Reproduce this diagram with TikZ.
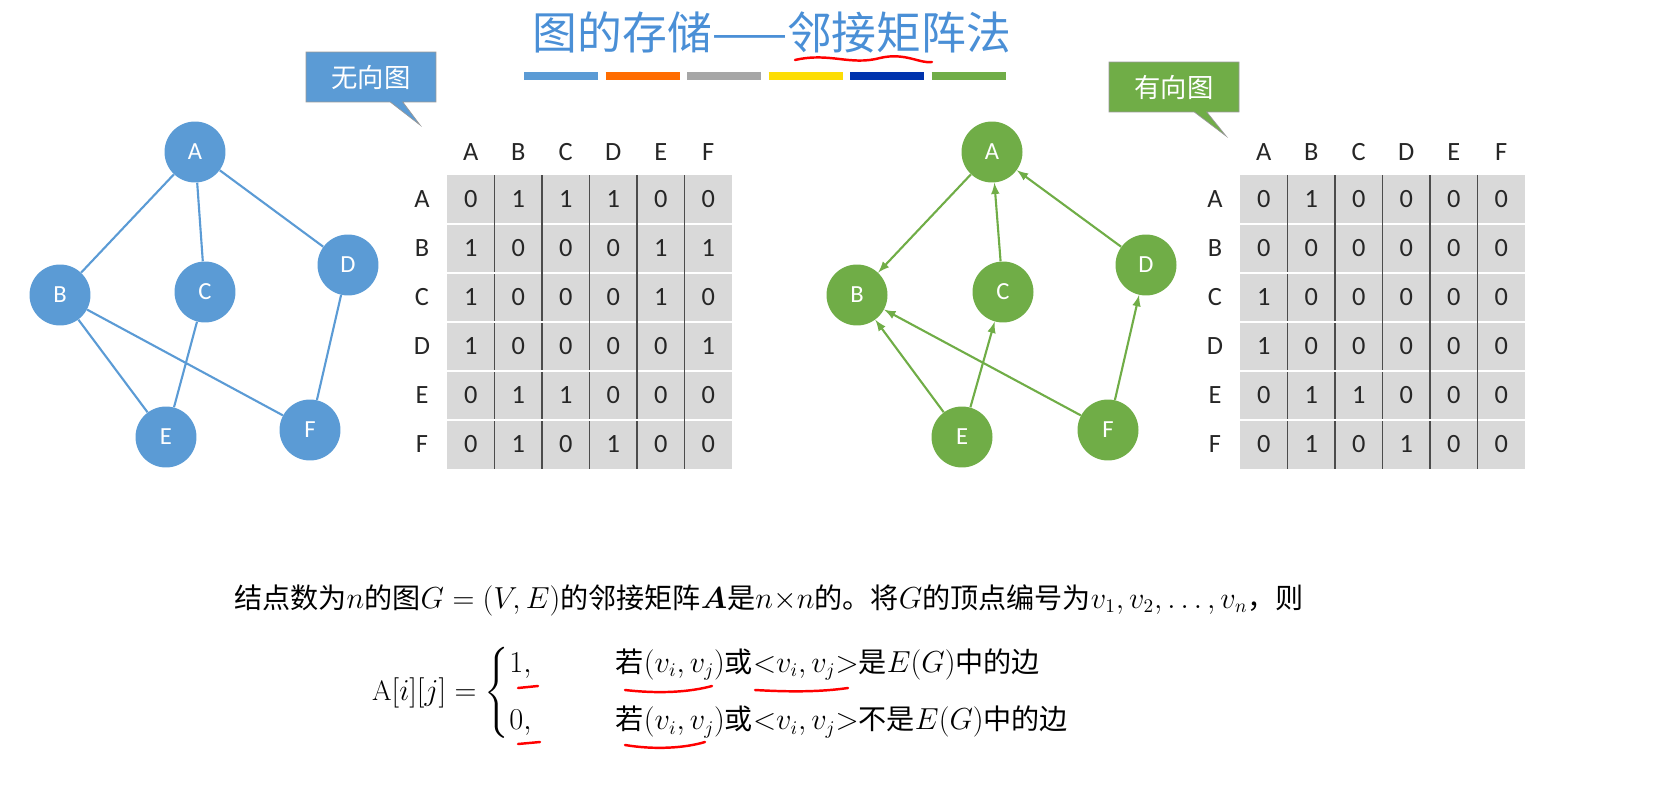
\documentclass[tikz,border=0pt]{standalone}
\usepackage{amsmath}
\usepackage{fontspec}
\setsansfont{Carlito}
\newfontfamily\cjk{Noto Sans CJK SC}
\usetikzlibrary{positioning,shapes.callouts,decorations.pathmorphing}
\definecolor{ublue}{HTML}{5B9BD5}
\definecolor{dgreen}{HTML}{70AD47}
\definecolor{titleblue}{HTML}{4A8FD6}
\definecolor{cellgray}{HTML}{D9D9D9}
\tikzset{
  vtx/.style={circle,minimum size=1.22cm,inner sep=0pt,text=white,font=\sffamily\fontsize{14}{16}\selectfont},
  uvtx/.style={vtx,fill=ublue},
  dvtx/.style={vtx,fill=dgreen},
  uedge/.style={ublue,line width=1.2pt},
  dedge/.style={dgreen,line width=1.2pt,-latex},
  lbl/.style={font=\sffamily\fontsize{15}{17}\selectfont,text=black!85},
  note/.style={rectangle callout,draw=black!40,text=white,minimum width=2.6cm,minimum height=1cm,font=\cjk\fontsize{15}{17}\selectfont},
  bar/.style={line width=0.16cm},
  redmark/.style={red,line width=1.4pt,line cap=round}
}
\newcommand{\zh}[1]{\text{\cjk #1}}
\begin{document}
\begin{tikzpicture}[x=0.02cm,y=-0.02cm]
\useasboundingbox (0,0) rectangle (1670,811);
% title
\node[font=\cjk\fontsize{25.5}{28}\selectfont,text=titleblue] (title) at (772,32) {图的存储——邻接矩阵法};
\draw[redmark] (795,60) .. controls (830,52) and (850,66) .. (880,58) .. controls (905,52) and (920,64) .. (932,62);
\foreach \c [count=\i from 0] in {ublue,orange!85!red,gray!70,yellow!80!orange,blue!60!black!80!cyan,dgreen}
  \draw[bar,\c] ({524+\i*81.5},76) -- ({598+\i*81.5},76);
% callouts
\node[note,fill=ublue,callout absolute pointer={(420,125)}] (undir) at (371,77) {无向图};
\node[note,fill=dgreen,callout absolute pointer={(1226,136)}] (dir) at (1174,87) {有向图};
% undirected graph
\node[uvtx] (uA) at (195,152) {A};
\node[uvtx] (uB) at (60,295) {B};
\node[uvtx] (uC) at (205,292) {C};
\node[uvtx] (uD) at (348,265) {D};
\node[uvtx] (uE) at (166,437) {E};
\node[uvtx] (uF) at (310,430) {F};
\draw[uedge] (uA) -- (uB) (uA) -- (uC) (uA) -- (uD) (uB) -- (uE)
  (uB) -- (uF) (uC) -- (uE) (uD) -- (uF);
% directed graph
\node[dvtx] (dA) at (992,152) {A};
\node[dvtx] (dB) at (857,295) {B};
\node[dvtx] (dC) at (1003,292) {C};
\node[dvtx] (dD) at (1146,265) {D};
\node[dvtx] (dE) at (962,437) {E};
\node[dvtx] (dF) at (1108,430) {F};
\draw[dedge] (dA) -- (dB);
\draw[dedge] (dC) -- (dA);
\draw[dedge] (dD) -- (dA);
\draw[dedge] (dE) -- (dB);
\draw[dedge] (dE) -- (dC);
\draw[dedge] (dF) -- (dB);
\draw[dedge] (dF) -- (dD);
% matrices
\foreach \m/\x/\rows in {u/447/{{0,1,1,1,0,0},{1,0,0,0,1,1},{1,0,0,0,1,0},{1,0,0,0,0,1},{0,1,1,0,0,0},{0,1,0,1,0,0}},
                         d/1240/{{0,1,0,0,0,0},{0,0,0,0,0,0},{1,0,0,0,0,0},{1,0,0,0,0,0},{0,1,1,0,0,0},{0,1,0,1,0,0}}} {
  \fill[cellgray] (\x,175) rectangle ({\x+285},469);
  \foreach \k in {1,...,5} {
    \draw[white,line width=1.5pt] (\x,{175+\k*49}) -- ({\x+285},{175+\k*49});
    \draw[black!70,line width=0.8pt] ({\x+\k*47.5},175) -- ({\x+\k*47.5},469);
  }
  \foreach \n [count=\j] in {A,B,C,D,E,F} {
    \node[lbl] (\m h\j) at ({\x+23.75+(\j-1)*47.5},152) {\n};
    \node[lbl] (\m r\j) at ({\x-25},{199.5+(\j-1)*49}) {\n};
  }
  \foreach \row [count=\r] in \rows
    \foreach \v [count=\c] in \row
      \node[lbl] (\m c\r-\c) at ({\x+23.75+(\c-1)*47.5},{199.5+(\r-1)*49}) {\v};
}
% definition
\node[anchor=west,font=\fontsize{16}{19}\selectfont] (defn) at (228,600)
  {\cjk 结点数为$n$的图$G=(V,E)$的邻接矩阵$\boldsymbol{A}$是$n{\times}n$的。将$G$的顶点编号为$v_1,v_2,\ldots,v_n$，则};
\node[anchor=west,font=\fontsize{16}{19}\selectfont] (formula) at (366,693)
  {$\mathrm{A}[i][j]=\begin{cases}1, & \qquad\zh{若}(v_i,v_j)\zh{或}{<}v_i,v_j{>}\zh{是}E(G)\zh{中的边}\\[10pt]
   0, & \qquad\zh{若}(v_i,v_j)\zh{或}{<}v_i,v_j{>}\zh{不是}E(G)\zh{中的边}\end{cases}$};
% hand marks
\draw[redmark] (518,688) -- (538,686);
\draw[redmark] (518,744) -- (540,742);
\draw[redmark] (625,690) .. controls (660,694) and (690,692) .. (712,686);
\draw[redmark] (755,690) .. controls (790,692) and (820,692) .. (848,688);
\draw[redmark] (625,745) .. controls (655,750) and (685,748) .. (705,742);
\end{tikzpicture}
\end{document}
